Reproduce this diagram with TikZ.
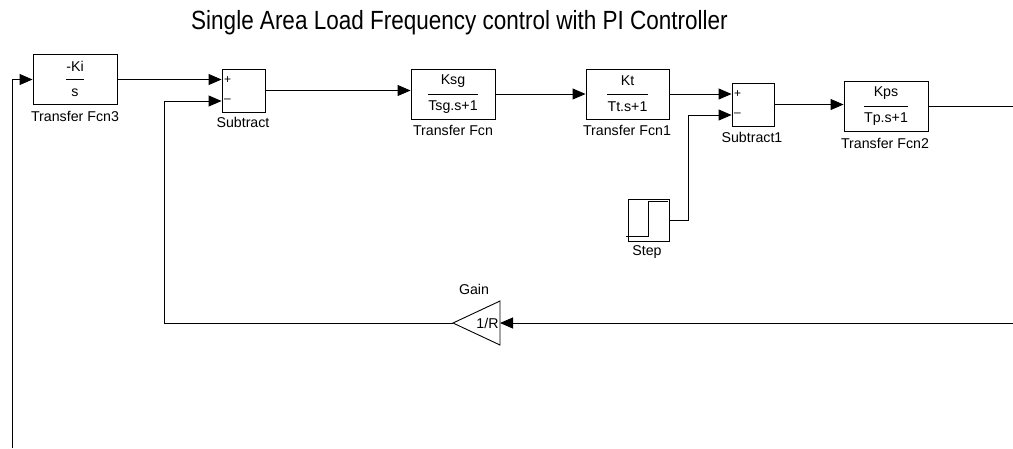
\documentclass[tikz,border=0pt]{standalone}
\usepackage{fontspec}
\setmainfont{Liberation Sans}
\usetikzlibrary{arrows.meta}
\begin{document}
\begin{tikzpicture}[x=1pt,y=-1pt,
  blk/.style={draw,line width=0.9pt,inner sep=0pt,minimum width=#1,minimum height=50pt},
  sumblk/.style={draw,line width=0.9pt,inner sep=0pt,minimum width=#1,minimum height=43pt},
  txt/.style={font=\fontsize{14.2}{16}\selectfont,inner sep=0pt},
  sgn/.style={font=\fontsize{12}{14}\selectfont,inner sep=0pt},
  frac/.style={line width=0.9pt},
  conn/.style={line width=0.9pt},
  arr/.style={conn,-{Triangle[length=13pt,width=11pt]}}
]
\useasboundingbox (0,0) rectangle (1013,448);
\node[font=\fontsize{22.5}{26}\selectfont,inner sep=0pt] (title) at (459.5,23) {\scalebox{1}[1.17]{Single Area Load Frequency control with PI Controller}};

% Transfer Fcn3
\node[blk=84pt] (tf3) at (75,79.5) {};
\node[txt] (tf3n) at ([yshift=13pt]tf3.center) {-Ki};
\node[txt] (tf3d) at ([yshift=-13pt]tf3.center) {s};
\draw[frac] (tf3.center -| tf3n.west) -- (tf3.center -| tf3n.east);
\node[txt] (tf3l) at (75,116) {Transfer Fcn3};

% Subtract
\node[sumblk=43pt] (sub) at (243.5,90.5) {};
\node[sgn] (subp) at ([xshift=6pt,yshift=10.5pt]sub.west) {+};
\node[sgn] (subm) at ([xshift=6pt,yshift=-10.5pt]sub.west) {–};
\node[txt] (subl) at (243,122) {Subtract};

% Transfer Fcn
\node[blk=84pt] (tf) at (453,94) {};
\node[txt] (tfn) at ([yshift=13pt]tf.center) {Ksg};
\node[txt] (tfd) at ([yshift=-13pt]tf.center) {Tsg.s+1};
\draw[frac] (tf.center -| tfd.west) -- (tf.center -| tfd.east);
\node[txt] (tfl) at (453,130) {Transfer Fcn};

% Transfer Fcn1
\node[blk=83pt] (tf1) at (627.5,94) {};
\node[txt] (tf1n) at ([yshift=13pt]tf1.center) {Kt};
\node[txt] (tf1d) at ([yshift=-13pt]tf1.center) {Tt.s+1};
\draw[frac] (tf1.center -| tf1d.west) -- (tf1.center -| tf1d.east);
\node[txt] (tf1l) at (627,130) {Transfer Fcn1};

% Subtract1
\node[sumblk=42pt] (sub1) at (753,104.5) {};
\node[sgn] (sub1p) at ([xshift=6pt,yshift=10.5pt]sub1.west) {+};
\node[sgn] (sub1m) at ([xshift=6pt,yshift=-10.5pt]sub1.west) {–};
\node[txt] (sub1l) at (752,137) {Subtract1};

% Transfer Fcn2
\node[blk=84pt] (tf2) at (886,106.5) {};
\node[txt] (tf2n) at ([yshift=13pt]tf2.center) {Kps};
\node[txt] (tf2d) at ([yshift=-13pt]tf2.center) {Tp.s+1};
\draw[frac] (tf2.center -| tf2d.west) -- (tf2.center -| tf2d.east);
\node[txt] (tf2l) at (885,143) {Transfer Fcn2};

% Step
\node[draw,line width=0.9pt,inner sep=0pt,minimum width=41pt,minimum height=42pt] (step) at (648.5,220) {};
\draw[line width=1pt] (626,236) -- (648,236) -- (648,201.5) -- (668,201.5);
\node[txt] (stepl) at (647,252) {Step};

% Gain
\coordinate (gA) at (453,323);
\coordinate (gB) at (500,323);
\coordinate (gT) at (500,301);
\coordinate (gD) at (500,345);
\draw[line width=0.9pt,line join=miter] (gA) -- (gT) -- (gD) -- cycle;
\node[txt] (gtxt) at (487.5,323) {1/R};
\node[txt] (gainl) at (474,289) {Gain};

% free ends
\coordinate (outR) at (1013,107);
\coordinate (fbR) at (1013,323);
\coordinate (bot) at (12,448);

% connectors
\draw[arr] (tf3.east) -- (tf3.east -| sub.west);
\draw[arr] (sub.east) -- (sub.east -| tf.west);
\draw[arr] (tf.east) -- (tf.east -| tf1.west);
\draw[arr] (tf1.east) -- (tf1.east -| sub1.west);
\draw[arr] (sub1.east) -- (sub1.east -| tf2.west);
\draw[conn] (tf2.east) -- (tf2.east -| outR);
\draw[arr] (step.east) -| ([xshift=-43pt,yshift=-10.5pt]sub1.west) -- ([yshift=-10.5pt]sub1.west);
\draw[arr] (fbR) -- (gB);
\draw[arr] (gA) -| ([xshift=-57pt,yshift=-10.5pt]sub.west) -- ([yshift=-10.5pt]sub.west);
\draw[arr] (bot) |- (tf3.west);
\end{tikzpicture}
\end{document}
